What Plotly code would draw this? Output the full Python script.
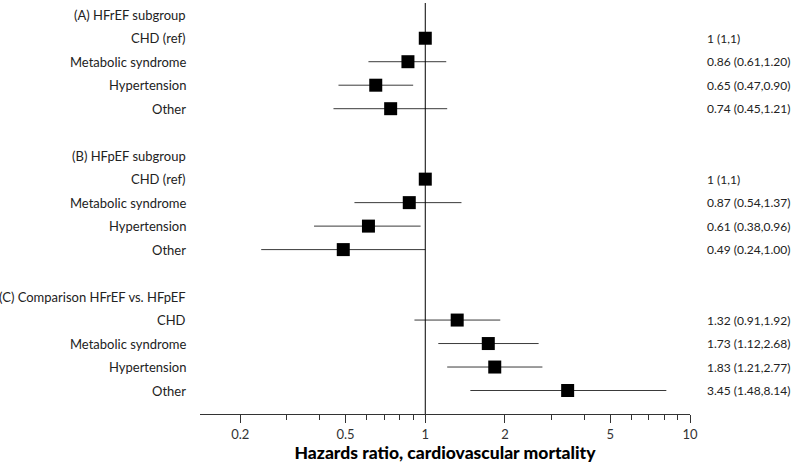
import plotly.graph_objects as go

# Rows (top to bottom); None = header/blank row with no estimate
row_labels = [
    "(A) HFrEF subgroup", "CHD (ref)", "Metabolic syndrome", "Hypertension", "Other", "",
    "(B) HFpEF subgroup", "CHD (ref)", "Metabolic syndrome", "Hypertension", "Other", "",
    "(C) Comparison HFrEF vs. HFpEF", "CHD", "Metabolic syndrome", "Hypertension", "Other",
]
hr = [None, 1.0, 0.86, 0.65, 0.74, None,
      None, 1.0, 0.87, 0.61, 0.49, None,
      None, 1.32, 1.73, 1.83, 3.45]
ci_low = [None, 1.0, 0.61, 0.47, 0.45, None,
          None, 1.0, 0.54, 0.38, 0.24, None,
          None, 0.91, 1.12, 1.21, 1.48]
ci_high = [None, 1.0, 1.20, 0.90, 1.21, None,
           None, 1.0, 1.37, 0.96, 1.00, None,
           None, 1.92, 2.68, 2.77, 8.14]
right_text = ["", "1 (1,1)", "0.86 (0.61,1.20)", "0.65 (0.47,0.90)", "0.74 (0.45,1.21)", "",
              "", "1 (1,1)", "0.87 (0.54,1.37)", "0.61 (0.38,0.96)", "0.49 (0.24,1.00)", "",
              "", "1.32 (0.91,1.92)", "1.73 (1.12,2.68)", "1.83 (1.21,2.77)", "3.45 (1.48,8.14)"]
major_ticks = [0.2, 0.5, 1, 2, 5, 10]
tick_text = ["0.2", "0.5", "1", "2", "5", "10"]
minor_ticks = [0.3, 0.4, 0.6, 0.7, 0.8, 0.9, 3, 4, 6, 7, 8, 9]

FONT = "Lato, 'Open Sans', sans-serif"
LINE_COLOR = "#3a3a3a"

fig = go.Figure()

# CI lines
lx, ly = [], []
for i, (lo, hi) in enumerate(zip(ci_low, ci_high)):
    if lo is None or lo == hi:
        continue
    lx += [lo, hi, None]
    ly += [i, i, None]
fig.add_trace(go.Scatter(x=lx, y=ly, mode="lines",
                         line=dict(color=LINE_COLOR, width=1),
                         hoverinfo="skip", showlegend=False))

# Point estimates
px = [v for v in hr if v is not None]
py = [i for i, v in enumerate(hr) if v is not None]
fig.add_trace(go.Scatter(x=px, y=py, mode="markers",
                         marker=dict(symbol="square", size=13, color="black"),
                         showlegend=False))

# Reference line at 1
fig.add_shape(type="line", xref="x", yref="paper", x0=1, x1=1, y0=0, y1=1,
              line=dict(color="black", width=1))

# Left labels
for i, lab in enumerate(row_labels):
    if lab:
        fig.add_annotation(x=0, xref="paper", y=i, yref="y", text=lab,
                           xanchor="right", yanchor="middle", xshift=-12,
                           showarrow=False, font=dict(family=FONT, size=13, color="#222"))
# Right text
for i, t in enumerate(right_text):
    if t:
        fig.add_annotation(x=1, xref="paper", y=i, yref="y", text=t,
                           xanchor="left", yanchor="middle", xshift=15,
                           showarrow=False, font=dict(family=FONT, size=12, color="#222"))

fig.update_layout(
    width=791, height=464,
    margin=dict(l=200, r=101, t=3, b=50),
    plot_bgcolor="white", paper_bgcolor="white",
    font=dict(family=FONT, size=13, color="#222"),
    xaxis=dict(
        type="log", range=[-0.851, 1.0],
        tickvals=major_ticks, ticktext=tick_text,
        ticks="outside", ticklen=8, tickwidth=1, tickcolor="#333",
        showgrid=False, zeroline=False,
        showline=True, linecolor="#333", linewidth=1,
        tickfont=dict(family=FONT, size=13, color="#333"),
        minor=dict(tickvals=minor_ticks, ticks="outside", ticklen=5,
                   tickwidth=1, tickcolor="#333", showgrid=False),
        title=dict(text="Hazards ratio, cardiovascular mortality",
                   font=dict(family=FONT, size=17.5, color="black", weight=900),
                   standoff=5),
    ),
    yaxis=dict(range=[17, -0.5], visible=False, showgrid=False, zeroline=False),
)

fig.write_html("out.html",
               config={"displayModeBar": False},
               post_script="document.body.style.margin='0';document.body.style.overflow='hidden';")
